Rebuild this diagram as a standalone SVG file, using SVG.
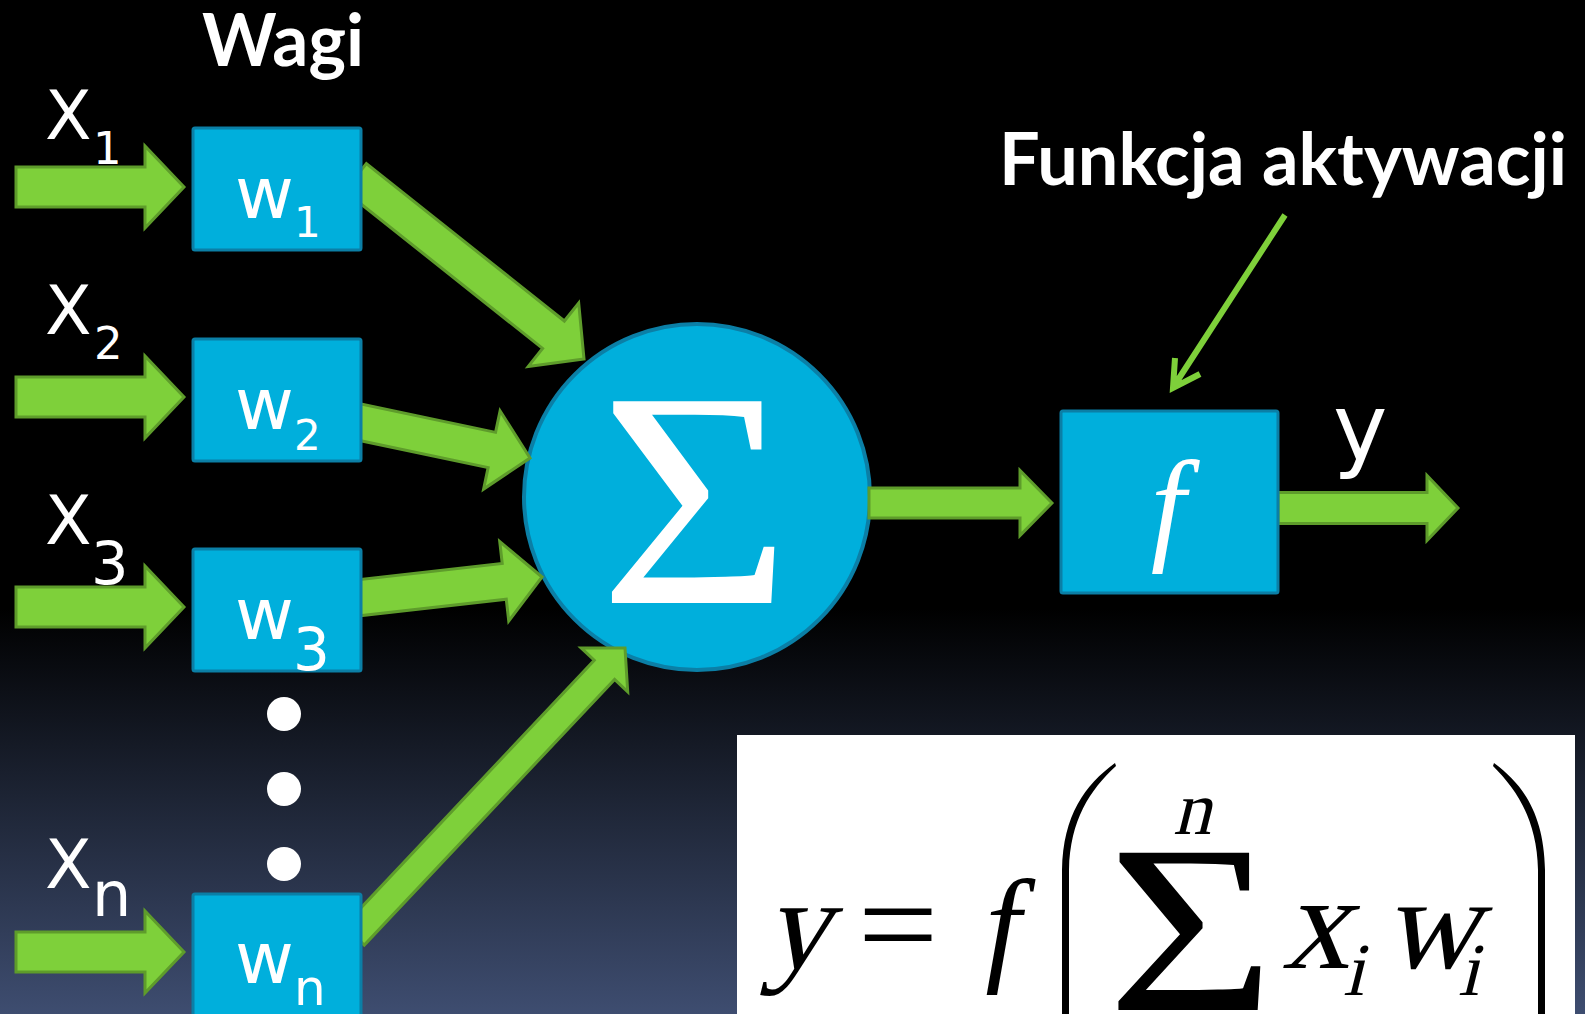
<svg xmlns="http://www.w3.org/2000/svg" width="1585" height="1014" viewBox="0 0 1585 1014">
<defs>
<linearGradient id="bg" x1="0" y1="0" x2="0" y2="1014" gradientUnits="userSpaceOnUse">
<stop offset="0" stop-color="#000000"/>
<stop offset="0.6" stop-color="#000000"/>
<stop offset="1" stop-color="#3e4d70"/>
</linearGradient>
</defs>
<style>
.box{fill:#00afdc;stroke:#0b7fa6;stroke-width:3}
.arr{fill:#7ed03a;stroke:#5e9c2b;stroke-width:3;stroke-linejoin:miter}
.lbl{font-family:"DejaVu Sans",sans-serif;fill:#ffffff}
.ttl{font-family:Lato,"Open Sans",sans-serif;font-weight:bold;fill:#ffffff}
.math{font-family:"Liberation Serif","Times New Roman",serif;fill:#000000}
.fit{font-family:"Liberation Serif",serif;font-style:italic}
</style>
<rect x="0" y="0" width="1585" height="1014" fill="url(#bg)"/>

<text class="ttl" x="202" y="66" font-size="72" textLength="162" lengthAdjust="spacingAndGlyphs">Wagi</text>
<text class="ttl" x="999" y="185" font-size="72" textLength="568" lengthAdjust="spacingAndGlyphs">Funkcja aktywacji</text>

<g id="sum">
<circle cx="697" cy="497" r="173" fill="#00afdc" stroke="#0b7fa6" stroke-width="4"/>
<text transform="translate(695,603) scale(1.07,1)" x="0" y="0" font-family="Liberation Serif,serif" font-size="308" fill="#ffffff" text-anchor="middle">Σ</text>
</g>

<g id="connectors">
<path class="arr" transform="translate(184,187)" d="M0,0 L-39,-41 L-39,-20 L-168,-20 L-168,20 L-39,20 L-39,41 Z"/>
<path class="arr" transform="translate(184,397)" d="M0,0 L-39,-41 L-39,-20 L-168,-20 L-168,20 L-39,20 L-39,41 Z"/>
<path class="arr" transform="translate(184,607)" d="M0,0 L-39,-41 L-39,-20 L-168,-20 L-168,20 L-39,20 L-39,41 Z"/>
<path class="arr" transform="translate(184,952)" d="M0,0 L-39,-41 L-39,-20 L-168,-20 L-168,20 L-39,20 L-39,41 Z"/>
<path class="arr" transform="translate(584,359) rotate(38.5)" d="M0,0 L-39,-40.5 L-39,-17.5 L-292,-17.5 L-292,17.5 L-39,17.5 L-39,40.5 Z"/>
<path class="arr" transform="translate(530,458) rotate(11.9)" d="M0,0 L-39,-40 L-39,-18 L-180,-18 L-180,18 L-39,18 L-39,40 Z"/>
<path class="arr" transform="translate(542,577) rotate(-6.46)" d="M0,0 L-38,-40 L-38,-18 L-190,-18 L-190,18 L-38,18 L-38,40 Z"/>
<path class="arr" transform="translate(625,648) rotate(-46.7)" d="M0,0 L-30,-32 L-30,-14 L-395,-14 L-395,14 L-30,14 L-30,32 Z"/>
<path class="arr" transform="translate(1052,503)" d="M0,0 L-32,-32.5 L-32,-15 L-183,-15 L-183,15 L-32,15 L-32,32.5 Z"/>
<path class="arr" transform="translate(1458,508)" d="M0,0 L-31,-32.5 L-31,-15.5 L-180,-15.5 L-180,15.5 L-31,15.5 L-31,32.5 Z"/>
<path d="M1285,215 L1174,386 M1175,358 L1173,388 L1200,374" fill="none" stroke="#7ed03a" stroke-width="6"/>
</g>

<g id="w1"><rect class="box" x="193" y="128" width="168" height="122" rx="2"/>
<text class="lbl" x="235" y="218" font-size="72">w</text><text class="lbl" x="294" y="237" font-size="42">1</text></g>
<g id="w2"><rect class="box" x="193" y="339" width="168" height="122" rx="2"/>
<text class="lbl" x="235" y="429" font-size="72">w</text><text class="lbl" x="294" y="450" font-size="42">2</text></g>
<g id="w3"><rect class="box" x="193" y="549" width="168" height="122" rx="2"/>
<text class="lbl" x="235" y="639" font-size="72">w</text><text class="lbl" x="293" y="670" font-size="58">3</text></g>
<g id="wn"><rect class="box" x="193" y="894" width="168" height="130" rx="2"/>
<text class="lbl" x="235" y="983" font-size="72">w</text><text class="lbl" x="294" y="1005" font-size="50">n</text></g>

<g id="x1"><text class="lbl" x="45" y="139" font-size="68">X</text><text class="lbl" x="93" y="164" font-size="45">1</text></g>
<g id="x2"><text class="lbl" x="45" y="334" font-size="68">X</text><text class="lbl" x="94" y="359" font-size="45">2</text></g>
<g id="x3"><text class="lbl" x="45" y="544" font-size="68">X</text><text class="lbl" x="91" y="584" font-size="59">3</text></g>
<g id="xn"><text class="lbl" x="45" y="888" font-size="68">X</text><text class="lbl" x="92" y="916" font-size="62">n</text></g>

<g id="dots" fill="#ffffff">
<circle cx="284" cy="714" r="17"/>
<circle cx="284" cy="789" r="17"/>
<circle cx="284" cy="864" r="17"/>
</g>

<g id="f">
<rect class="box" x="1061" y="411" width="217" height="182" rx="2"/>
<text class="fit" x="1168" y="547" font-size="125" fill="#ffffff" text-anchor="middle">f</text>
</g>

<text class="lbl" x="1333" y="460" font-size="92">y</text>

<g id="formula">
<rect x="737" y="735" width="838" height="290" fill="#ffffff"/>
<text class="math" transform="translate(764,968) skewX(-14)" x="0" y="0" font-size="130">y</text>
<text class="math" transform="translate(898,968) scale(1.1,1)" x="0" y="0" font-size="130" text-anchor="middle">=</text>
<text class="fit" x="1003" y="968" font-size="128" fill="#000" text-anchor="middle">f</text>
<path d="M1115,763 C1085,785 1063,815 1062,870 L1062,1020 L1069,1020 L1069,870 C1070,820 1090,790 1116,766 Z" fill="#000"/>
<path d="M1494,763 C1524,785 1544,815 1545,870 L1545,1020 L1538,1020 L1538,870 C1537,820 1517,790 1493,766 Z" fill="#000"/>
<text class="math" transform="translate(1192,834) skewX(-14)" x="0" y="0" font-size="76" text-anchor="middle">n</text>
<text class="math" transform="translate(1191,1010) scale(1.2,1)" x="0" y="0" font-size="240" text-anchor="middle">Σ</text>
<text class="math" transform="translate(1282,968) skewX(-14)" x="0" y="0" font-size="135">x</text>
<text class="math" transform="translate(1343,995) skewX(-14)" x="0" y="0" font-size="75">i</text>
<text class="math" transform="translate(1383,968) skewX(-14)" x="0" y="0" font-size="132">w</text>
<text class="math" transform="translate(1458,995) skewX(-14)" x="0" y="0" font-size="75">i</text>
</g>
</svg>
